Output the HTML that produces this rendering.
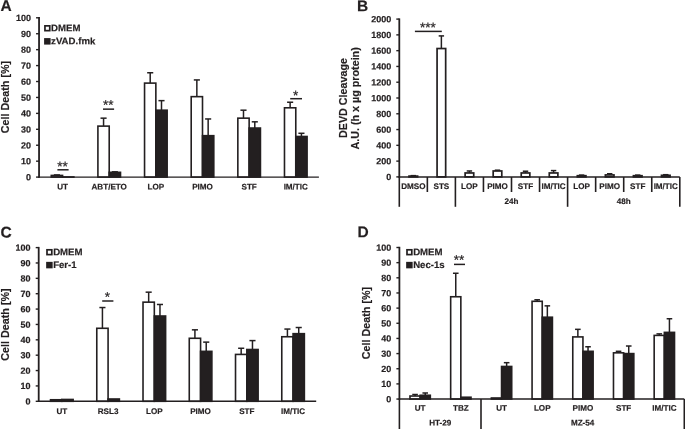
<!DOCTYPE html>
<html><head><meta charset="utf-8"><title>Figure</title>
<style>html,body{margin:0;padding:0;background:#fff}body{width:685px;height:429px;overflow:hidden}</style>
</head><body>
<svg width="685" height="429" viewBox="0 0 685 429" font-family='"Liberation Sans", Arial, Helvetica, sans-serif' fill="#231f20" style="display:block;filter:blur(0.3px)">
<rect width="685" height="429" fill="#fff" stroke="none"/>
<line x1="56.92" y1="175.43" x2="56.92" y2="174.95" stroke="#231f20" stroke-width="1.5" />
<line x1="53.87" y1="174.95" x2="59.97" y2="174.95" stroke="#231f20" stroke-width="1.5" />
<rect x="51.27" y="175.43" width="11.30" height="1.67" fill="#fff" stroke="#231f20" stroke-width="1.6"/>
<rect x="62.57" y="176.94" width="11.30" height="0.16" fill="#231f20" stroke="#231f20" stroke-width="1.6"/>
<text x="62.57" y="189.50" font-size="8.1" text-anchor="middle" font-weight="bold" stroke="#231f20" stroke-width="0.18"  transform="rotate(0.05 62.57 189.50)">UT</text>
<line x1="103.56" y1="126.12" x2="103.56" y2="118.16" stroke="#231f20" stroke-width="1.5" />
<line x1="100.51" y1="118.16" x2="106.61" y2="118.16" stroke="#231f20" stroke-width="1.5" />
<rect x="97.91" y="126.12" width="11.30" height="50.98" fill="#fff" stroke="#231f20" stroke-width="1.6"/>
<line x1="114.86" y1="172.32" x2="114.86" y2="171.84" stroke="#231f20" stroke-width="1.5" />
<line x1="111.81" y1="171.84" x2="117.91" y2="171.84" stroke="#231f20" stroke-width="1.5" />
<rect x="109.21" y="172.32" width="11.30" height="4.78" fill="#231f20" stroke="#231f20" stroke-width="1.6"/>
<text x="109.21" y="189.50" font-size="8.1" text-anchor="middle" font-weight="bold" stroke="#231f20" stroke-width="0.18"  transform="rotate(0.05 109.21 189.50)">ABT/ETO</text>
<line x1="150.20" y1="83.11" x2="150.20" y2="72.76" stroke="#231f20" stroke-width="1.5" />
<line x1="147.15" y1="72.76" x2="153.25" y2="72.76" stroke="#231f20" stroke-width="1.5" />
<rect x="144.55" y="83.11" width="11.30" height="93.99" fill="#fff" stroke="#231f20" stroke-width="1.6"/>
<line x1="161.50" y1="110.19" x2="161.50" y2="100.64" stroke="#231f20" stroke-width="1.5" />
<line x1="158.45" y1="100.64" x2="164.55" y2="100.64" stroke="#231f20" stroke-width="1.5" />
<rect x="155.85" y="110.19" width="11.30" height="66.91" fill="#231f20" stroke="#231f20" stroke-width="1.6"/>
<text x="155.85" y="189.50" font-size="8.1" text-anchor="middle" font-weight="bold" stroke="#231f20" stroke-width="0.18"  transform="rotate(0.05 155.85 189.50)">LOP</text>
<line x1="196.85" y1="96.65" x2="196.85" y2="79.93" stroke="#231f20" stroke-width="1.5" />
<line x1="193.80" y1="79.93" x2="199.90" y2="79.93" stroke="#231f20" stroke-width="1.5" />
<rect x="191.20" y="96.65" width="11.30" height="80.45" fill="#fff" stroke="#231f20" stroke-width="1.6"/>
<line x1="208.15" y1="135.68" x2="208.15" y2="118.96" stroke="#231f20" stroke-width="1.5" />
<line x1="205.10" y1="118.96" x2="211.20" y2="118.96" stroke="#231f20" stroke-width="1.5" />
<rect x="202.50" y="135.68" width="11.30" height="41.42" fill="#231f20" stroke="#231f20" stroke-width="1.6"/>
<text x="202.50" y="189.50" font-size="8.1" text-anchor="middle" font-weight="bold" stroke="#231f20" stroke-width="0.18"  transform="rotate(0.05 202.50 189.50)">PIMO</text>
<line x1="243.49" y1="118.16" x2="243.49" y2="110.19" stroke="#231f20" stroke-width="1.5" />
<line x1="240.44" y1="110.19" x2="246.54" y2="110.19" stroke="#231f20" stroke-width="1.5" />
<rect x="237.84" y="118.16" width="11.30" height="58.94" fill="#fff" stroke="#231f20" stroke-width="1.6"/>
<line x1="254.79" y1="128.04" x2="254.79" y2="121.82" stroke="#231f20" stroke-width="1.5" />
<line x1="251.74" y1="121.82" x2="257.84" y2="121.82" stroke="#231f20" stroke-width="1.5" />
<rect x="249.14" y="128.04" width="11.30" height="49.06" fill="#231f20" stroke="#231f20" stroke-width="1.6"/>
<text x="249.14" y="189.50" font-size="8.1" text-anchor="middle" font-weight="bold" stroke="#231f20" stroke-width="0.18"  transform="rotate(0.05 249.14 189.50)">STF</text>
<line x1="290.13" y1="107.80" x2="290.13" y2="102.23" stroke="#231f20" stroke-width="1.5" />
<line x1="287.08" y1="102.23" x2="293.18" y2="102.23" stroke="#231f20" stroke-width="1.5" />
<rect x="284.48" y="107.80" width="11.30" height="69.30" fill="#fff" stroke="#231f20" stroke-width="1.6"/>
<line x1="301.43" y1="136.48" x2="301.43" y2="133.29" stroke="#231f20" stroke-width="1.5" />
<line x1="298.38" y1="133.29" x2="304.48" y2="133.29" stroke="#231f20" stroke-width="1.5" />
<rect x="295.78" y="136.48" width="11.30" height="40.62" fill="#231f20" stroke="#231f20" stroke-width="1.6"/>
<text x="295.78" y="189.50" font-size="8.1" text-anchor="middle" font-weight="bold" stroke="#231f20" stroke-width="0.18"  transform="rotate(0.05 295.78 189.50)">IM/TIC</text>
<line x1="39.05" y1="17.10" x2="39.05" y2="177.80" stroke="#231f20" stroke-width="1.8" />
<line x1="38.35" y1="177.10" x2="318.90" y2="177.10" stroke="#231f20" stroke-width="1.45" />
<line x1="36.05" y1="177.10" x2="39.05" y2="177.10" stroke="#231f20" stroke-width="1.4" />
<text x="30.95" y="180.30" font-size="9" text-anchor="end" font-weight="bold" stroke="#231f20" stroke-width="0.18"  transform="rotate(0.05 30.95 180.30)">0</text>
<line x1="36.05" y1="161.17" x2="39.05" y2="161.17" stroke="#231f20" stroke-width="1.4" />
<text x="30.95" y="164.37" font-size="9" text-anchor="end" font-weight="bold" stroke="#231f20" stroke-width="0.18"  transform="rotate(0.05 30.95 164.37)">10</text>
<line x1="36.05" y1="145.24" x2="39.05" y2="145.24" stroke="#231f20" stroke-width="1.4" />
<text x="30.95" y="148.44" font-size="9" text-anchor="end" font-weight="bold" stroke="#231f20" stroke-width="0.18"  transform="rotate(0.05 30.95 148.44)">20</text>
<line x1="36.05" y1="129.31" x2="39.05" y2="129.31" stroke="#231f20" stroke-width="1.4" />
<text x="30.95" y="132.51" font-size="9" text-anchor="end" font-weight="bold" stroke="#231f20" stroke-width="0.18"  transform="rotate(0.05 30.95 132.51)">30</text>
<line x1="36.05" y1="113.38" x2="39.05" y2="113.38" stroke="#231f20" stroke-width="1.4" />
<text x="30.95" y="116.58" font-size="9" text-anchor="end" font-weight="bold" stroke="#231f20" stroke-width="0.18"  transform="rotate(0.05 30.95 116.58)">40</text>
<line x1="36.05" y1="97.45" x2="39.05" y2="97.45" stroke="#231f20" stroke-width="1.4" />
<text x="30.95" y="100.65" font-size="9" text-anchor="end" font-weight="bold" stroke="#231f20" stroke-width="0.18"  transform="rotate(0.05 30.95 100.65)">50</text>
<line x1="36.05" y1="81.52" x2="39.05" y2="81.52" stroke="#231f20" stroke-width="1.4" />
<text x="30.95" y="84.72" font-size="9" text-anchor="end" font-weight="bold" stroke="#231f20" stroke-width="0.18"  transform="rotate(0.05 30.95 84.72)">60</text>
<line x1="36.05" y1="65.59" x2="39.05" y2="65.59" stroke="#231f20" stroke-width="1.4" />
<text x="30.95" y="68.79" font-size="9" text-anchor="end" font-weight="bold" stroke="#231f20" stroke-width="0.18"  transform="rotate(0.05 30.95 68.79)">70</text>
<line x1="36.05" y1="49.66" x2="39.05" y2="49.66" stroke="#231f20" stroke-width="1.4" />
<text x="30.95" y="52.86" font-size="9" text-anchor="end" font-weight="bold" stroke="#231f20" stroke-width="0.18"  transform="rotate(0.05 30.95 52.86)">80</text>
<line x1="36.05" y1="33.73" x2="39.05" y2="33.73" stroke="#231f20" stroke-width="1.4" />
<text x="30.95" y="36.93" font-size="9" text-anchor="end" font-weight="bold" stroke="#231f20" stroke-width="0.18"  transform="rotate(0.05 30.95 36.93)">90</text>
<line x1="36.05" y1="17.80" x2="39.05" y2="17.80" stroke="#231f20" stroke-width="1.4" />
<text x="30.95" y="21.00" font-size="9" text-anchor="end" font-weight="bold" stroke="#231f20" stroke-width="0.18"  transform="rotate(0.05 30.95 21.00)">100</text>
<rect x="44.95" y="25.85" width="4.80" height="4.80" fill="#fff" stroke="#231f20" stroke-width="1.7"/>
<text x="51.10" y="31.25" font-size="9.65" text-anchor="start" font-weight="bold" stroke="#231f20" stroke-width="0.18"  transform="rotate(0.05 51.10 31.25)">DMEM</text>
<rect x="44.95" y="38.95" width="4.80" height="4.80" fill="#231f20" stroke="#231f20" stroke-width="1.7"/>
<text x="51.10" y="44.35" font-size="9.65" text-anchor="start" font-weight="bold" stroke="#231f20" stroke-width="0.18"  transform="rotate(0.05 51.10 44.35)">zVAD.fmk</text>
<text x="0.00" y="0.00" font-size="10.75" text-anchor="middle" font-weight="bold" stroke="#231f20" stroke-width="0.18" transform="translate(8.90,97.00) rotate(-90)">Cell Death [%]</text>
<text x="0.50" y="11.00" font-size="15.5" text-anchor="start" font-weight="bold" stroke="#231f20" stroke-width="0.18"  transform="rotate(0.05 0.50 11.00)">A</text>
<line x1="57.40" y1="169.80" x2="68.60" y2="169.80" stroke="#231f20" stroke-width="1.5" />
<text x="62.60" y="170.90" font-size="13.5" text-anchor="middle" font-weight="normal" stroke="#231f20" stroke-width="0.18" style="stroke-width:0.22" transform="rotate(0.05 62.60 170.90)">**</text>
<line x1="103.00" y1="109.15" x2="114.10" y2="109.15" stroke="#231f20" stroke-width="1.5" />
<text x="108.15" y="109.50" font-size="13.5" text-anchor="middle" font-weight="normal" stroke="#231f20" stroke-width="0.18" style="stroke-width:0.22" transform="rotate(0.05 108.15 109.50)">**</text>
<line x1="290.20" y1="98.70" x2="302.00" y2="98.70" stroke="#231f20" stroke-width="1.5" />
<text x="295.70" y="99.95" font-size="13.5" text-anchor="middle" font-weight="normal" stroke="#231f20" stroke-width="0.18" style="stroke-width:0.22" transform="rotate(0.05 295.70 99.95)">*</text>
<line x1="413.32" y1="176.11" x2="413.32" y2="175.64" stroke="#231f20" stroke-width="1.5" />
<line x1="410.62" y1="175.64" x2="416.02" y2="175.64" stroke="#231f20" stroke-width="1.5" />
<rect x="409.02" y="176.11" width="8.60" height="0.79" fill="#fff" stroke="#231f20" stroke-width="1.7"/>
<text x="413.32" y="189.00" font-size="8.1" text-anchor="middle" font-weight="bold" stroke="#231f20" stroke-width="0.18"  transform="rotate(0.05 413.32 189.00)">DMSO</text>
<line x1="441.38" y1="48.53" x2="441.38" y2="35.91" stroke="#231f20" stroke-width="1.5" />
<line x1="438.68" y1="35.91" x2="444.07" y2="35.91" stroke="#231f20" stroke-width="1.5" />
<rect x="437.07" y="48.53" width="8.60" height="128.37" fill="#fff" stroke="#231f20" stroke-width="1.7"/>
<text x="441.38" y="189.00" font-size="8.1" text-anchor="middle" font-weight="bold" stroke="#231f20" stroke-width="0.18"  transform="rotate(0.05 441.38 189.00)">STS</text>
<line x1="469.43" y1="172.96" x2="469.43" y2="170.98" stroke="#231f20" stroke-width="1.5" />
<line x1="466.73" y1="170.98" x2="472.12" y2="170.98" stroke="#231f20" stroke-width="1.5" />
<rect x="465.12" y="172.96" width="8.60" height="3.94" fill="#fff" stroke="#231f20" stroke-width="1.7"/>
<text x="469.43" y="189.00" font-size="8.1" text-anchor="middle" font-weight="bold" stroke="#231f20" stroke-width="0.18"  transform="rotate(0.05 469.43 189.00)">LOP</text>
<line x1="497.48" y1="170.98" x2="497.48" y2="170.19" stroke="#231f20" stroke-width="1.5" />
<line x1="494.78" y1="170.19" x2="500.18" y2="170.19" stroke="#231f20" stroke-width="1.5" />
<rect x="493.18" y="170.98" width="8.60" height="5.92" fill="#fff" stroke="#231f20" stroke-width="1.7"/>
<text x="497.48" y="189.00" font-size="8.1" text-anchor="middle" font-weight="bold" stroke="#231f20" stroke-width="0.18"  transform="rotate(0.05 497.48 189.00)">PIMO</text>
<line x1="525.52" y1="172.96" x2="525.52" y2="171.22" stroke="#231f20" stroke-width="1.5" />
<line x1="522.82" y1="171.22" x2="528.23" y2="171.22" stroke="#231f20" stroke-width="1.5" />
<rect x="521.23" y="172.96" width="8.60" height="3.94" fill="#fff" stroke="#231f20" stroke-width="1.7"/>
<text x="525.52" y="189.00" font-size="8.1" text-anchor="middle" font-weight="bold" stroke="#231f20" stroke-width="0.18"  transform="rotate(0.05 525.52 189.00)">STF</text>
<line x1="553.58" y1="172.96" x2="553.58" y2="170.59" stroke="#231f20" stroke-width="1.5" />
<line x1="550.88" y1="170.59" x2="556.28" y2="170.59" stroke="#231f20" stroke-width="1.5" />
<rect x="549.28" y="172.96" width="8.60" height="3.94" fill="#fff" stroke="#231f20" stroke-width="1.7"/>
<text x="553.58" y="189.00" font-size="8.1" text-anchor="middle" font-weight="bold" stroke="#231f20" stroke-width="0.18"  transform="rotate(0.05 553.58 189.00)">IM/TIC</text>
<line x1="581.62" y1="175.72" x2="581.62" y2="175.09" stroke="#231f20" stroke-width="1.5" />
<line x1="578.92" y1="175.09" x2="584.33" y2="175.09" stroke="#231f20" stroke-width="1.5" />
<rect x="577.33" y="175.72" width="8.60" height="1.18" fill="#fff" stroke="#231f20" stroke-width="1.7"/>
<text x="581.62" y="189.00" font-size="8.1" text-anchor="middle" font-weight="bold" stroke="#231f20" stroke-width="0.18"  transform="rotate(0.05 581.62 189.00)">LOP</text>
<line x1="609.67" y1="174.93" x2="609.67" y2="173.74" stroke="#231f20" stroke-width="1.5" />
<line x1="606.97" y1="173.74" x2="612.38" y2="173.74" stroke="#231f20" stroke-width="1.5" />
<rect x="605.38" y="174.93" width="8.60" height="1.97" fill="#fff" stroke="#231f20" stroke-width="1.7"/>
<text x="609.67" y="189.00" font-size="8.1" text-anchor="middle" font-weight="bold" stroke="#231f20" stroke-width="0.18"  transform="rotate(0.05 609.67 189.00)">PIMO</text>
<line x1="637.72" y1="175.72" x2="637.72" y2="175.09" stroke="#231f20" stroke-width="1.5" />
<line x1="635.02" y1="175.09" x2="640.42" y2="175.09" stroke="#231f20" stroke-width="1.5" />
<rect x="633.42" y="175.72" width="8.60" height="1.18" fill="#fff" stroke="#231f20" stroke-width="1.7"/>
<text x="637.72" y="189.00" font-size="8.1" text-anchor="middle" font-weight="bold" stroke="#231f20" stroke-width="0.18"  transform="rotate(0.05 637.72 189.00)">STF</text>
<line x1="665.77" y1="175.32" x2="665.77" y2="174.69" stroke="#231f20" stroke-width="1.5" />
<line x1="663.07" y1="174.69" x2="668.48" y2="174.69" stroke="#231f20" stroke-width="1.5" />
<rect x="661.48" y="175.32" width="8.60" height="1.58" fill="#fff" stroke="#231f20" stroke-width="1.7"/>
<text x="665.77" y="189.00" font-size="8.1" text-anchor="middle" font-weight="bold" stroke="#231f20" stroke-width="0.18"  transform="rotate(0.05 665.77 189.00)">IM/TIC</text>
<line x1="399.30" y1="18.40" x2="399.30" y2="177.60" stroke="#231f20" stroke-width="1.8" />
<line x1="398.60" y1="176.90" x2="679.80" y2="176.90" stroke="#231f20" stroke-width="1.45" />
<line x1="396.30" y1="176.90" x2="399.30" y2="176.90" stroke="#231f20" stroke-width="1.4" />
<text x="391.20" y="180.10" font-size="9" text-anchor="end" font-weight="bold" stroke="#231f20" stroke-width="0.18"  transform="rotate(0.05 391.20 180.10)">0</text>
<line x1="396.30" y1="161.12" x2="399.30" y2="161.12" stroke="#231f20" stroke-width="1.4" />
<text x="391.20" y="164.32" font-size="9" text-anchor="end" font-weight="bold" stroke="#231f20" stroke-width="0.18"  transform="rotate(0.05 391.20 164.32)">200</text>
<line x1="396.30" y1="145.34" x2="399.30" y2="145.34" stroke="#231f20" stroke-width="1.4" />
<text x="391.20" y="148.54" font-size="9" text-anchor="end" font-weight="bold" stroke="#231f20" stroke-width="0.18"  transform="rotate(0.05 391.20 148.54)">400</text>
<line x1="396.30" y1="129.56" x2="399.30" y2="129.56" stroke="#231f20" stroke-width="1.4" />
<text x="391.20" y="132.76" font-size="9" text-anchor="end" font-weight="bold" stroke="#231f20" stroke-width="0.18"  transform="rotate(0.05 391.20 132.76)">600</text>
<line x1="396.30" y1="113.78" x2="399.30" y2="113.78" stroke="#231f20" stroke-width="1.4" />
<text x="391.20" y="116.98" font-size="9" text-anchor="end" font-weight="bold" stroke="#231f20" stroke-width="0.18"  transform="rotate(0.05 391.20 116.98)">800</text>
<line x1="396.30" y1="98.00" x2="399.30" y2="98.00" stroke="#231f20" stroke-width="1.4" />
<text x="391.20" y="101.20" font-size="9" text-anchor="end" font-weight="bold" stroke="#231f20" stroke-width="0.18"  transform="rotate(0.05 391.20 101.20)">1000</text>
<line x1="396.30" y1="82.22" x2="399.30" y2="82.22" stroke="#231f20" stroke-width="1.4" />
<text x="391.20" y="85.42" font-size="9" text-anchor="end" font-weight="bold" stroke="#231f20" stroke-width="0.18"  transform="rotate(0.05 391.20 85.42)">1200</text>
<line x1="396.30" y1="66.44" x2="399.30" y2="66.44" stroke="#231f20" stroke-width="1.4" />
<text x="391.20" y="69.64" font-size="9" text-anchor="end" font-weight="bold" stroke="#231f20" stroke-width="0.18"  transform="rotate(0.05 391.20 69.64)">1400</text>
<line x1="396.30" y1="50.66" x2="399.30" y2="50.66" stroke="#231f20" stroke-width="1.4" />
<text x="391.20" y="53.86" font-size="9" text-anchor="end" font-weight="bold" stroke="#231f20" stroke-width="0.18"  transform="rotate(0.05 391.20 53.86)">1600</text>
<line x1="396.30" y1="34.88" x2="399.30" y2="34.88" stroke="#231f20" stroke-width="1.4" />
<text x="391.20" y="38.08" font-size="9" text-anchor="end" font-weight="bold" stroke="#231f20" stroke-width="0.18"  transform="rotate(0.05 391.20 38.08)">1800</text>
<line x1="396.30" y1="19.10" x2="399.30" y2="19.10" stroke="#231f20" stroke-width="1.4" />
<text x="391.20" y="22.30" font-size="9" text-anchor="end" font-weight="bold" stroke="#231f20" stroke-width="0.18"  transform="rotate(0.05 391.20 22.30)">2000</text>
<text x="0.00" y="0.00" font-size="10.75" text-anchor="middle" font-weight="bold" stroke="#231f20" stroke-width="0.18" transform="translate(347.10,98.00) rotate(-90)">DEVD Cleavage</text>
<text x="0.00" y="0.00" font-size="10.75" text-anchor="middle" font-weight="bold" stroke="#231f20" stroke-width="0.18" transform="translate(358.95,98.40) rotate(-90)">A.U. (h x µg protein)</text>
<text x="357.00" y="11.30" font-size="15.5" text-anchor="start" font-weight="bold" stroke="#231f20" stroke-width="0.18"  transform="rotate(0.05 357.00 11.30)">B</text>
<line x1="414.90" y1="31.40" x2="441.80" y2="31.40" stroke="#231f20" stroke-width="1.5" />
<text x="427.95" y="32.10" font-size="13.5" text-anchor="middle" font-weight="normal" stroke="#231f20" stroke-width="0.18" style="stroke-width:0.22" transform="rotate(0.05 427.95 32.10)">***</text>
<line x1="399.30" y1="177.00" x2="399.30" y2="206.80" stroke="#231f20" stroke-width="1.6" />
<line x1="427.35" y1="177.00" x2="427.35" y2="192.00" stroke="#231f20" stroke-width="1.6" />
<line x1="455.40" y1="177.00" x2="455.40" y2="206.80" stroke="#231f20" stroke-width="1.6" />
<line x1="483.45" y1="177.00" x2="483.45" y2="192.00" stroke="#231f20" stroke-width="1.6" />
<line x1="511.50" y1="177.00" x2="511.50" y2="192.00" stroke="#231f20" stroke-width="1.6" />
<line x1="539.55" y1="177.00" x2="539.55" y2="192.00" stroke="#231f20" stroke-width="1.6" />
<line x1="567.60" y1="177.00" x2="567.60" y2="206.80" stroke="#231f20" stroke-width="1.6" />
<line x1="595.65" y1="177.00" x2="595.65" y2="192.00" stroke="#231f20" stroke-width="1.6" />
<line x1="623.70" y1="177.00" x2="623.70" y2="192.00" stroke="#231f20" stroke-width="1.6" />
<line x1="651.75" y1="177.00" x2="651.75" y2="192.00" stroke="#231f20" stroke-width="1.6" />
<line x1="679.80" y1="177.00" x2="679.80" y2="206.80" stroke="#231f20" stroke-width="1.6" />
<text x="511.50" y="204.00" font-size="8.1" text-anchor="middle" font-weight="bold" stroke="#231f20" stroke-width="0.18"  transform="rotate(0.05 511.50 204.00)">24h</text>
<text x="623.70" y="204.00" font-size="8.1" text-anchor="middle" font-weight="bold" stroke="#231f20" stroke-width="0.18"  transform="rotate(0.05 623.70 204.00)">48h</text>
<rect x="50.53" y="399.76" width="11.30" height="1.54" fill="#fff" stroke="#231f20" stroke-width="1.6"/>
<rect x="61.83" y="399.46" width="11.30" height="1.84" fill="#231f20" stroke="#231f20" stroke-width="1.6"/>
<text x="61.83" y="414.00" font-size="8.1" text-anchor="middle" font-weight="bold" stroke="#231f20" stroke-width="0.18"  transform="rotate(0.05 61.83 414.00)">UT</text>
<line x1="102.43" y1="328.29" x2="102.43" y2="307.54" stroke="#231f20" stroke-width="1.5" />
<line x1="99.38" y1="307.54" x2="105.48" y2="307.54" stroke="#231f20" stroke-width="1.5" />
<rect x="96.78" y="328.29" width="11.30" height="73.01" fill="#fff" stroke="#231f20" stroke-width="1.6"/>
<rect x="108.08" y="398.99" width="11.30" height="2.31" fill="#231f20" stroke="#231f20" stroke-width="1.6"/>
<text x="108.08" y="414.00" font-size="8.1" text-anchor="middle" font-weight="bold" stroke="#231f20" stroke-width="0.18"  transform="rotate(0.05 108.08 414.00)">RSL3</text>
<line x1="148.67" y1="302.16" x2="148.67" y2="292.17" stroke="#231f20" stroke-width="1.5" />
<line x1="145.62" y1="292.17" x2="151.72" y2="292.17" stroke="#231f20" stroke-width="1.5" />
<rect x="143.02" y="302.16" width="11.30" height="99.14" fill="#fff" stroke="#231f20" stroke-width="1.6"/>
<line x1="159.97" y1="316.00" x2="159.97" y2="304.47" stroke="#231f20" stroke-width="1.5" />
<line x1="156.92" y1="304.47" x2="163.03" y2="304.47" stroke="#231f20" stroke-width="1.5" />
<rect x="154.32" y="316.00" width="11.30" height="85.30" fill="#231f20" stroke="#231f20" stroke-width="1.6"/>
<text x="154.32" y="414.00" font-size="8.1" text-anchor="middle" font-weight="bold" stroke="#231f20" stroke-width="0.18"  transform="rotate(0.05 154.32 414.00)">LOP</text>
<line x1="194.92" y1="338.28" x2="194.92" y2="329.83" stroke="#231f20" stroke-width="1.5" />
<line x1="191.87" y1="329.83" x2="197.97" y2="329.83" stroke="#231f20" stroke-width="1.5" />
<rect x="189.27" y="338.28" width="11.30" height="63.02" fill="#fff" stroke="#231f20" stroke-width="1.6"/>
<line x1="206.22" y1="351.35" x2="206.22" y2="342.13" stroke="#231f20" stroke-width="1.5" />
<line x1="203.17" y1="342.13" x2="209.28" y2="342.13" stroke="#231f20" stroke-width="1.5" />
<rect x="200.57" y="351.35" width="11.30" height="49.95" fill="#231f20" stroke="#231f20" stroke-width="1.6"/>
<text x="200.57" y="414.00" font-size="8.1" text-anchor="middle" font-weight="bold" stroke="#231f20" stroke-width="0.18"  transform="rotate(0.05 200.57 414.00)">PIMO</text>
<line x1="241.17" y1="354.42" x2="241.17" y2="348.27" stroke="#231f20" stroke-width="1.5" />
<line x1="238.12" y1="348.27" x2="244.22" y2="348.27" stroke="#231f20" stroke-width="1.5" />
<rect x="235.52" y="354.42" width="11.30" height="46.88" fill="#fff" stroke="#231f20" stroke-width="1.6"/>
<line x1="252.47" y1="349.50" x2="252.47" y2="340.59" stroke="#231f20" stroke-width="1.5" />
<line x1="249.42" y1="340.59" x2="255.53" y2="340.59" stroke="#231f20" stroke-width="1.5" />
<rect x="246.82" y="349.50" width="11.30" height="51.80" fill="#231f20" stroke="#231f20" stroke-width="1.6"/>
<text x="246.82" y="414.00" font-size="8.1" text-anchor="middle" font-weight="bold" stroke="#231f20" stroke-width="0.18"  transform="rotate(0.05 246.82 414.00)">STF</text>
<line x1="287.42" y1="336.75" x2="287.42" y2="329.06" stroke="#231f20" stroke-width="1.5" />
<line x1="284.37" y1="329.06" x2="290.47" y2="329.06" stroke="#231f20" stroke-width="1.5" />
<rect x="281.77" y="336.75" width="11.30" height="64.55" fill="#fff" stroke="#231f20" stroke-width="1.6"/>
<line x1="298.72" y1="333.67" x2="298.72" y2="327.52" stroke="#231f20" stroke-width="1.5" />
<line x1="295.67" y1="327.52" x2="301.77" y2="327.52" stroke="#231f20" stroke-width="1.5" />
<rect x="293.07" y="333.67" width="11.30" height="67.63" fill="#231f20" stroke="#231f20" stroke-width="1.6"/>
<text x="293.07" y="414.00" font-size="8.1" text-anchor="middle" font-weight="bold" stroke="#231f20" stroke-width="0.18"  transform="rotate(0.05 293.07 414.00)">IM/TIC</text>
<line x1="38.70" y1="246.90" x2="38.70" y2="402.00" stroke="#231f20" stroke-width="1.8" />
<line x1="38.00" y1="401.30" x2="316.20" y2="401.30" stroke="#231f20" stroke-width="1.45" />
<line x1="35.70" y1="401.30" x2="38.70" y2="401.30" stroke="#231f20" stroke-width="1.4" />
<text x="30.60" y="404.50" font-size="9" text-anchor="end" font-weight="bold" stroke="#231f20" stroke-width="0.18"  transform="rotate(0.05 30.60 404.50)">0</text>
<line x1="35.70" y1="385.93" x2="38.70" y2="385.93" stroke="#231f20" stroke-width="1.4" />
<text x="30.60" y="389.13" font-size="9" text-anchor="end" font-weight="bold" stroke="#231f20" stroke-width="0.18"  transform="rotate(0.05 30.60 389.13)">10</text>
<line x1="35.70" y1="370.56" x2="38.70" y2="370.56" stroke="#231f20" stroke-width="1.4" />
<text x="30.60" y="373.76" font-size="9" text-anchor="end" font-weight="bold" stroke="#231f20" stroke-width="0.18"  transform="rotate(0.05 30.60 373.76)">20</text>
<line x1="35.70" y1="355.19" x2="38.70" y2="355.19" stroke="#231f20" stroke-width="1.4" />
<text x="30.60" y="358.39" font-size="9" text-anchor="end" font-weight="bold" stroke="#231f20" stroke-width="0.18"  transform="rotate(0.05 30.60 358.39)">30</text>
<line x1="35.70" y1="339.82" x2="38.70" y2="339.82" stroke="#231f20" stroke-width="1.4" />
<text x="30.60" y="343.02" font-size="9" text-anchor="end" font-weight="bold" stroke="#231f20" stroke-width="0.18"  transform="rotate(0.05 30.60 343.02)">40</text>
<line x1="35.70" y1="324.45" x2="38.70" y2="324.45" stroke="#231f20" stroke-width="1.4" />
<text x="30.60" y="327.65" font-size="9" text-anchor="end" font-weight="bold" stroke="#231f20" stroke-width="0.18"  transform="rotate(0.05 30.60 327.65)">50</text>
<line x1="35.70" y1="309.08" x2="38.70" y2="309.08" stroke="#231f20" stroke-width="1.4" />
<text x="30.60" y="312.28" font-size="9" text-anchor="end" font-weight="bold" stroke="#231f20" stroke-width="0.18"  transform="rotate(0.05 30.60 312.28)">60</text>
<line x1="35.70" y1="293.71" x2="38.70" y2="293.71" stroke="#231f20" stroke-width="1.4" />
<text x="30.60" y="296.91" font-size="9" text-anchor="end" font-weight="bold" stroke="#231f20" stroke-width="0.18"  transform="rotate(0.05 30.60 296.91)">70</text>
<line x1="35.70" y1="278.34" x2="38.70" y2="278.34" stroke="#231f20" stroke-width="1.4" />
<text x="30.60" y="281.54" font-size="9" text-anchor="end" font-weight="bold" stroke="#231f20" stroke-width="0.18"  transform="rotate(0.05 30.60 281.54)">80</text>
<line x1="35.70" y1="262.97" x2="38.70" y2="262.97" stroke="#231f20" stroke-width="1.4" />
<text x="30.60" y="266.17" font-size="9" text-anchor="end" font-weight="bold" stroke="#231f20" stroke-width="0.18"  transform="rotate(0.05 30.60 266.17)">90</text>
<line x1="35.70" y1="247.60" x2="38.70" y2="247.60" stroke="#231f20" stroke-width="1.4" />
<text x="30.60" y="250.80" font-size="9" text-anchor="end" font-weight="bold" stroke="#231f20" stroke-width="0.18"  transform="rotate(0.05 30.60 250.80)">100</text>
<rect x="47.00" y="249.80" width="4.80" height="4.80" fill="#fff" stroke="#231f20" stroke-width="1.7"/>
<text x="53.15" y="255.20" font-size="9.65" text-anchor="start" font-weight="bold" stroke="#231f20" stroke-width="0.18"  transform="rotate(0.05 53.15 255.20)">DMEM</text>
<rect x="47.00" y="262.70" width="4.80" height="4.80" fill="#231f20" stroke="#231f20" stroke-width="1.7"/>
<text x="53.15" y="268.10" font-size="9.65" text-anchor="start" font-weight="bold" stroke="#231f20" stroke-width="0.18"  transform="rotate(0.05 53.15 268.10)">Fer-1</text>
<text x="0.00" y="0.00" font-size="10.75" text-anchor="middle" font-weight="bold" stroke="#231f20" stroke-width="0.18" transform="translate(8.90,324.50) rotate(-90)">Cell Death [%]</text>
<text x="0.50" y="237.50" font-size="15.5" text-anchor="start" font-weight="bold" stroke="#231f20" stroke-width="0.18"  transform="rotate(0.05 0.50 237.50)">C</text>
<line x1="102.20" y1="301.00" x2="113.40" y2="301.00" stroke="#231f20" stroke-width="1.5" />
<text x="107.40" y="301.40" font-size="13.5" text-anchor="middle" font-weight="normal" stroke="#231f20" stroke-width="0.18" style="stroke-width:0.22" transform="rotate(0.05 107.40 301.40)">*</text>
<line x1="415.06" y1="396.02" x2="415.06" y2="394.50" stroke="#231f20" stroke-width="1.5" />
<line x1="412.26" y1="394.50" x2="417.86" y2="394.50" stroke="#231f20" stroke-width="1.5" />
<rect x="409.97" y="396.02" width="10.17" height="3.03" fill="#fff" stroke="#231f20" stroke-width="1.6"/>
<line x1="425.24" y1="395.26" x2="425.24" y2="392.99" stroke="#231f20" stroke-width="1.5" />
<line x1="422.44" y1="392.99" x2="428.04" y2="392.99" stroke="#231f20" stroke-width="1.5" />
<rect x="420.15" y="395.26" width="10.17" height="3.79" fill="#231f20" stroke="#231f20" stroke-width="1.6"/>
<text x="420.15" y="410.80" font-size="8.1" text-anchor="middle" font-weight="bold" stroke="#231f20" stroke-width="0.18"  transform="rotate(0.05 420.15 410.80)">UT</text>
<line x1="455.76" y1="296.75" x2="455.76" y2="273.26" stroke="#231f20" stroke-width="1.5" />
<line x1="452.96" y1="273.26" x2="458.56" y2="273.26" stroke="#231f20" stroke-width="1.5" />
<rect x="450.67" y="296.75" width="10.17" height="102.30" fill="#fff" stroke="#231f20" stroke-width="1.6"/>
<rect x="460.85" y="397.23" width="10.17" height="1.82" fill="#231f20" stroke="#231f20" stroke-width="1.6"/>
<text x="460.85" y="410.80" font-size="8.1" text-anchor="middle" font-weight="bold" stroke="#231f20" stroke-width="0.18"  transform="rotate(0.05 460.85 410.80)">TBZ</text>
<rect x="491.37" y="397.99" width="10.17" height="1.06" fill="#fff" stroke="#231f20" stroke-width="1.6"/>
<line x1="506.64" y1="366.47" x2="506.64" y2="362.68" stroke="#231f20" stroke-width="1.5" />
<line x1="503.84" y1="362.68" x2="509.44" y2="362.68" stroke="#231f20" stroke-width="1.5" />
<rect x="501.55" y="366.47" width="10.17" height="32.58" fill="#231f20" stroke="#231f20" stroke-width="1.6"/>
<text x="501.55" y="410.80" font-size="8.1" text-anchor="middle" font-weight="bold" stroke="#231f20" stroke-width="0.18"  transform="rotate(0.05 501.55 410.80)">UT</text>
<line x1="537.16" y1="301.30" x2="537.16" y2="299.78" stroke="#231f20" stroke-width="1.5" />
<line x1="534.36" y1="299.78" x2="539.96" y2="299.78" stroke="#231f20" stroke-width="1.5" />
<rect x="532.07" y="301.30" width="10.17" height="97.75" fill="#fff" stroke="#231f20" stroke-width="1.6"/>
<line x1="547.34" y1="317.21" x2="547.34" y2="305.85" stroke="#231f20" stroke-width="1.5" />
<line x1="544.54" y1="305.85" x2="550.14" y2="305.85" stroke="#231f20" stroke-width="1.5" />
<rect x="542.25" y="317.21" width="10.17" height="81.84" fill="#231f20" stroke="#231f20" stroke-width="1.6"/>
<text x="542.25" y="410.80" font-size="8.1" text-anchor="middle" font-weight="bold" stroke="#231f20" stroke-width="0.18"  transform="rotate(0.05 542.25 410.80)">LOP</text>
<line x1="577.86" y1="336.91" x2="577.86" y2="329.34" stroke="#231f20" stroke-width="1.5" />
<line x1="575.06" y1="329.34" x2="580.66" y2="329.34" stroke="#231f20" stroke-width="1.5" />
<rect x="572.77" y="336.91" width="10.17" height="62.14" fill="#fff" stroke="#231f20" stroke-width="1.6"/>
<line x1="588.04" y1="351.31" x2="588.04" y2="346.77" stroke="#231f20" stroke-width="1.5" />
<line x1="585.24" y1="346.77" x2="590.84" y2="346.77" stroke="#231f20" stroke-width="1.5" />
<rect x="582.95" y="351.31" width="10.17" height="47.74" fill="#231f20" stroke="#231f20" stroke-width="1.6"/>
<text x="582.95" y="410.80" font-size="8.1" text-anchor="middle" font-weight="bold" stroke="#231f20" stroke-width="0.18"  transform="rotate(0.05 582.95 410.80)">PIMO</text>
<line x1="618.56" y1="352.83" x2="618.56" y2="351.31" stroke="#231f20" stroke-width="1.5" />
<line x1="615.76" y1="351.31" x2="621.36" y2="351.31" stroke="#231f20" stroke-width="1.5" />
<rect x="613.48" y="352.83" width="10.17" height="46.22" fill="#fff" stroke="#231f20" stroke-width="1.6"/>
<line x1="628.74" y1="353.59" x2="628.74" y2="346.01" stroke="#231f20" stroke-width="1.5" />
<line x1="625.94" y1="346.01" x2="631.54" y2="346.01" stroke="#231f20" stroke-width="1.5" />
<rect x="623.65" y="353.59" width="10.17" height="45.46" fill="#231f20" stroke="#231f20" stroke-width="1.6"/>
<text x="623.65" y="410.80" font-size="8.1" text-anchor="middle" font-weight="bold" stroke="#231f20" stroke-width="0.18"  transform="rotate(0.05 623.65 410.80)">STF</text>
<line x1="659.26" y1="335.40" x2="659.26" y2="333.88" stroke="#231f20" stroke-width="1.5" />
<line x1="656.46" y1="333.88" x2="662.06" y2="333.88" stroke="#231f20" stroke-width="1.5" />
<rect x="654.17" y="335.40" width="10.17" height="63.65" fill="#fff" stroke="#231f20" stroke-width="1.6"/>
<line x1="669.44" y1="332.37" x2="669.44" y2="318.73" stroke="#231f20" stroke-width="1.5" />
<line x1="666.64" y1="318.73" x2="672.24" y2="318.73" stroke="#231f20" stroke-width="1.5" />
<rect x="664.35" y="332.37" width="10.17" height="66.68" fill="#231f20" stroke="#231f20" stroke-width="1.6"/>
<text x="664.35" y="410.80" font-size="8.1" text-anchor="middle" font-weight="bold" stroke="#231f20" stroke-width="0.18"  transform="rotate(0.05 664.35 410.80)">IM/TIC</text>
<line x1="399.40" y1="246.80" x2="399.40" y2="399.75" stroke="#231f20" stroke-width="1.8" />
<line x1="398.70" y1="399.05" x2="684.30" y2="399.05" stroke="#231f20" stroke-width="1.45" />
<line x1="396.40" y1="399.05" x2="399.40" y2="399.05" stroke="#231f20" stroke-width="1.4" />
<text x="391.30" y="402.25" font-size="9" text-anchor="end" font-weight="bold" stroke="#231f20" stroke-width="0.18"  transform="rotate(0.05 391.30 402.25)">0</text>
<line x1="396.40" y1="383.90" x2="399.40" y2="383.90" stroke="#231f20" stroke-width="1.4" />
<text x="391.30" y="387.10" font-size="9" text-anchor="end" font-weight="bold" stroke="#231f20" stroke-width="0.18"  transform="rotate(0.05 391.30 387.10)">10</text>
<line x1="396.40" y1="368.74" x2="399.40" y2="368.74" stroke="#231f20" stroke-width="1.4" />
<text x="391.30" y="371.94" font-size="9" text-anchor="end" font-weight="bold" stroke="#231f20" stroke-width="0.18"  transform="rotate(0.05 391.30 371.94)">20</text>
<line x1="396.40" y1="353.59" x2="399.40" y2="353.59" stroke="#231f20" stroke-width="1.4" />
<text x="391.30" y="356.79" font-size="9" text-anchor="end" font-weight="bold" stroke="#231f20" stroke-width="0.18"  transform="rotate(0.05 391.30 356.79)">30</text>
<line x1="396.40" y1="338.43" x2="399.40" y2="338.43" stroke="#231f20" stroke-width="1.4" />
<text x="391.30" y="341.63" font-size="9" text-anchor="end" font-weight="bold" stroke="#231f20" stroke-width="0.18"  transform="rotate(0.05 391.30 341.63)">40</text>
<line x1="396.40" y1="323.27" x2="399.40" y2="323.27" stroke="#231f20" stroke-width="1.4" />
<text x="391.30" y="326.47" font-size="9" text-anchor="end" font-weight="bold" stroke="#231f20" stroke-width="0.18"  transform="rotate(0.05 391.30 326.47)">50</text>
<line x1="396.40" y1="308.12" x2="399.40" y2="308.12" stroke="#231f20" stroke-width="1.4" />
<text x="391.30" y="311.32" font-size="9" text-anchor="end" font-weight="bold" stroke="#231f20" stroke-width="0.18"  transform="rotate(0.05 391.30 311.32)">60</text>
<line x1="396.40" y1="292.97" x2="399.40" y2="292.97" stroke="#231f20" stroke-width="1.4" />
<text x="391.30" y="296.17" font-size="9" text-anchor="end" font-weight="bold" stroke="#231f20" stroke-width="0.18"  transform="rotate(0.05 391.30 296.17)">70</text>
<line x1="396.40" y1="277.81" x2="399.40" y2="277.81" stroke="#231f20" stroke-width="1.4" />
<text x="391.30" y="281.01" font-size="9" text-anchor="end" font-weight="bold" stroke="#231f20" stroke-width="0.18"  transform="rotate(0.05 391.30 281.01)">80</text>
<line x1="396.40" y1="262.65" x2="399.40" y2="262.65" stroke="#231f20" stroke-width="1.4" />
<text x="391.30" y="265.85" font-size="9" text-anchor="end" font-weight="bold" stroke="#231f20" stroke-width="0.18"  transform="rotate(0.05 391.30 265.85)">90</text>
<line x1="396.40" y1="247.50" x2="399.40" y2="247.50" stroke="#231f20" stroke-width="1.4" />
<text x="391.30" y="250.70" font-size="9" text-anchor="end" font-weight="bold" stroke="#231f20" stroke-width="0.18"  transform="rotate(0.05 391.30 250.70)">100</text>
<rect x="407.00" y="249.80" width="4.80" height="4.80" fill="#fff" stroke="#231f20" stroke-width="1.7"/>
<text x="413.15" y="255.20" font-size="9.65" text-anchor="start" font-weight="bold" stroke="#231f20" stroke-width="0.18"  transform="rotate(0.05 413.15 255.20)">DMEM</text>
<rect x="407.00" y="262.70" width="4.80" height="4.80" fill="#231f20" stroke="#231f20" stroke-width="1.7"/>
<text x="413.15" y="268.10" font-size="9.65" text-anchor="start" font-weight="bold" stroke="#231f20" stroke-width="0.18"  transform="rotate(0.05 413.15 268.10)">Nec-1s</text>
<text x="0.00" y="0.00" font-size="10.75" text-anchor="middle" font-weight="bold" stroke="#231f20" stroke-width="0.18" transform="translate(369.50,323.00) rotate(-90)">Cell Death [%]</text>
<text x="357.40" y="237.30" font-size="15.5" text-anchor="start" font-weight="bold" stroke="#231f20" stroke-width="0.18"  transform="rotate(0.05 357.40 237.30)">D</text>
<line x1="454.00" y1="264.40" x2="465.00" y2="264.40" stroke="#231f20" stroke-width="1.5" />
<text x="459.10" y="264.60" font-size="13.5" text-anchor="middle" font-weight="normal" stroke="#231f20" stroke-width="0.18" style="stroke-width:0.22" transform="rotate(0.05 459.10 264.60)">**</text>
<line x1="399.40" y1="399.00" x2="399.40" y2="430.00" stroke="#231f20" stroke-width="1.6" />
<line x1="481.00" y1="399.00" x2="481.00" y2="430.00" stroke="#231f20" stroke-width="1.6" />
<line x1="684.30" y1="399.00" x2="684.30" y2="430.00" stroke="#231f20" stroke-width="1.6" />
<text x="440.30" y="425.50" font-size="8.1" text-anchor="middle" font-weight="bold" stroke="#231f20" stroke-width="0.18"  transform="rotate(0.05 440.30 425.50)">HT-29</text>
<text x="582.60" y="425.50" font-size="8.1" text-anchor="middle" font-weight="bold" stroke="#231f20" stroke-width="0.18"  transform="rotate(0.05 582.60 425.50)">MZ-54</text>
</svg>
</body></html>
